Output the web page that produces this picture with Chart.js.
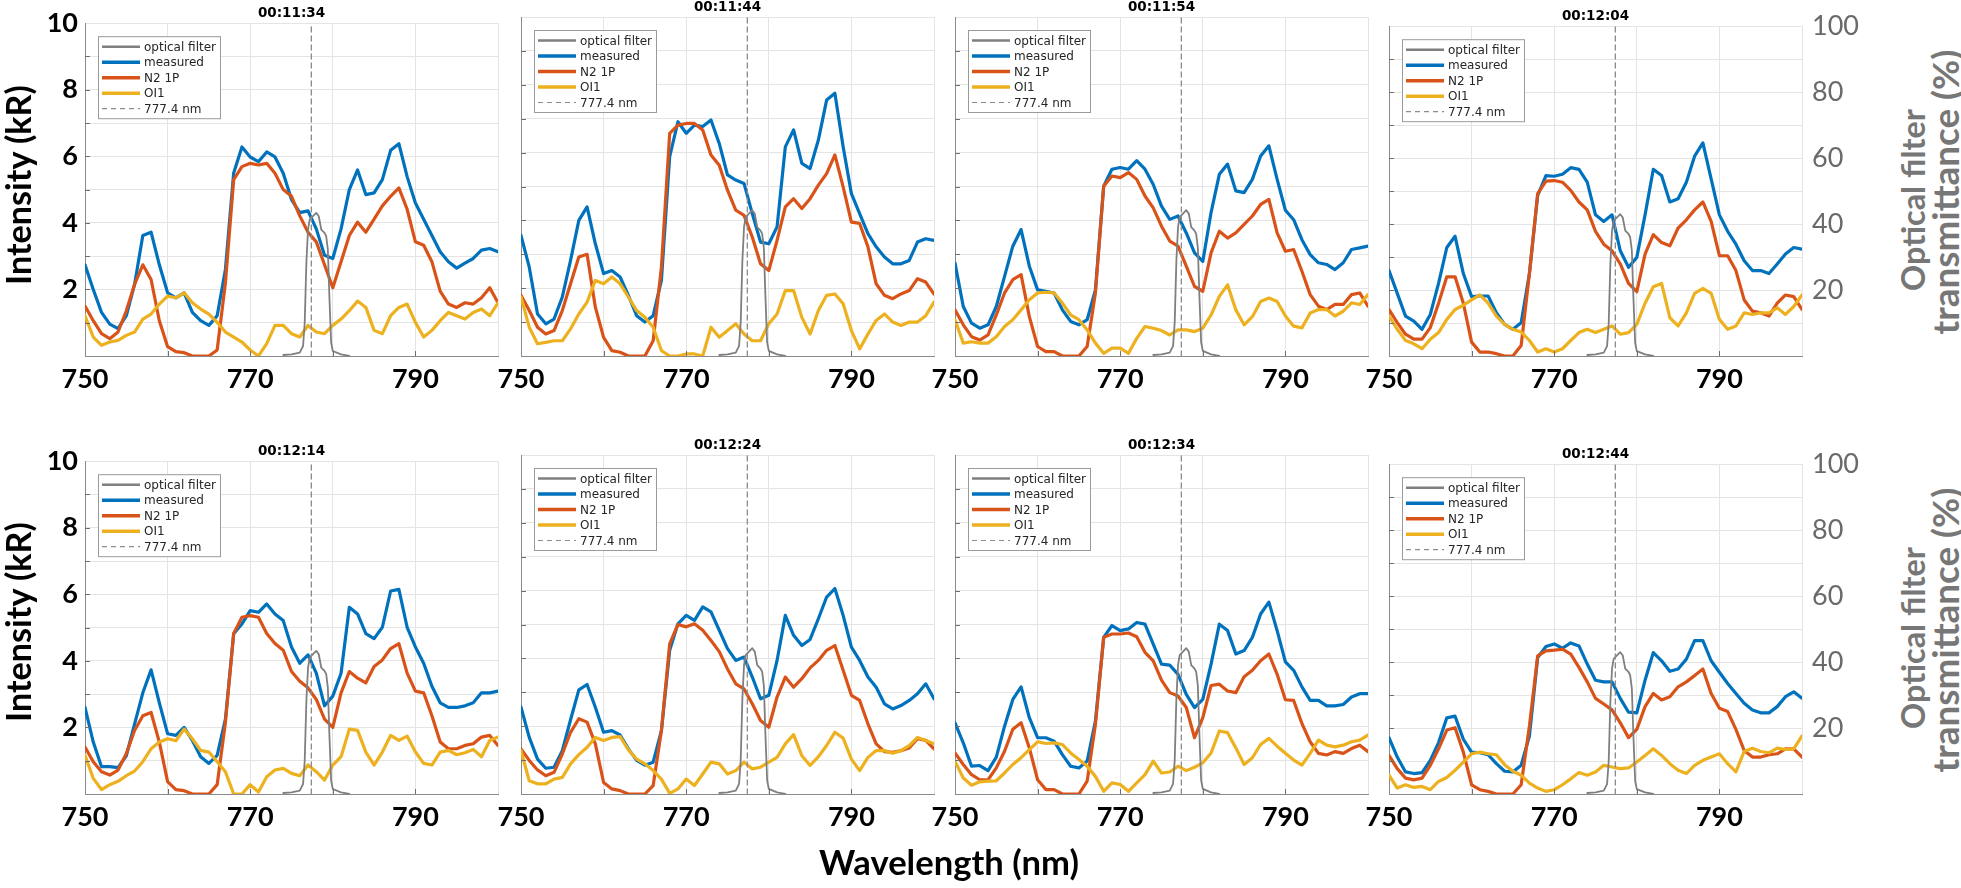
<!DOCTYPE html>
<html><head><meta charset="utf-8">
<script src="https://cdn.jsdelivr.net/npm/chart.js@4.4.0/dist/chart.umd.min.js"></script>
<style>
html,body{margin:0;padding:0;background:#fff;width:1961px;height:888px;overflow:hidden;position:relative;font-family:Lato,sans-serif}
canvas{position:absolute}
.lbl{position:absolute;white-space:nowrap;font-weight:bold;line-height:1;font-family:Lato,sans-serif}
</style></head><body>
<script>
// ---------------- DATA ----------------
const wavelengths = [750,751,752,753,754,755,756,757,758,759,760,761,762,763,764,765,766,767,768,769,770,771,772,773,774,775,776,777,778,779,780,781,782,783,784,785,786,787,788,789,790,791,792,793,794,795,796,797,798,799,800];
const filterWavelengths = [774,775,776,776.4,776.6,776.8,777.0,777.2,777.6,778.0,778.3,778.6,779.0,779.2,779.4,779.6,779.8,780.0,781.0,782.0];
const filterTransmittance = [0.3,0.5,1,3,10,28,38,41,42,43,42,38,37,36,32,17,4,1.5,0.5,0];
const oxygenLine = 777.4;
const timestamps = ['00:11:34','00:11:44','00:11:54','00:12:04','00:12:14','00:12:24','00:12:34','00:12:44'];
const seriesNames = ['optical filter','measured','N2 1P','OI1','777.4 nm'];
const xTickLabels = [750,770,790];
const yTickLabels = [2,4,6,8,10];
const y2TickLabels = [20,40,60,80,100];

const measured_1134 = [2.74,2.0,1.31,0.96,0.82,1.21,2.15,3.62,3.72,2.74, 1.9,1.75,1.9,1.31,1.06,0.92,1.21,2.6,5.5,6.28, 5.98,5.84,6.13,5.98,5.49,4.7,4.31,4.36,3.82,3.03, 2.93,3.82,5.0,5.59,4.85,4.9,5.3,6.18,6.38,5.39, 4.6,4.11,3.62,3.13,2.83,2.64,2.79,2.93,3.18,3.23,3.13];
const n2_1134 = [1.5,1.06,0.67,0.52,0.72,1.36,2.15,2.74,2.3,1.06, 0.28,0.13,0.1,0,0,0,0.18,2.2,5.3,5.69, 5.79,5.74,5.79,5.49,5.0,4.8,4.21,3.72,3.43,2.74, 2.05,2.83,3.62,4.02,3.72,4.11,4.51,4.8,5.05,4.41, 3.43,3.33,2.83,1.95,1.56,1.46,1.6,1.56,1.75,2.05,1.6];
const oi1_1134 = [1.21,0.57,0.32,0.42,0.47,0.62,0.72,1.11,1.26,1.56, 1.8,1.75,1.9,1.6,1.41,1.26,1.01,0.72,0.57,0.42, 0.18,0.0,0.37,0.92,0.92,0.67,0.57,0.92,0.72,0.67, 0.92,1.11,1.36,1.65,1.46,0.77,0.67,1.21,1.46,1.56, 1.01,0.57,0.77,1.06,1.31,1.21,1.11,1.31,1.41,1.21,1.6];

const measured_1144 = [3.56,2.62,1.24,0.95,1.09,1.74,2.82,4.0,4.4,3.31, 2.43,2.52,2.33,1.79,1.19,1.0,1.19,2.23,5.88,6.91, 6.57,6.81,6.77,6.96,6.27,5.34,5.19,5.09,4.2,3.36, 3.31,3.81,6.17,6.67,5.68,5.53,6.37,7.55,7.75,6.17, 4.79,4.2,3.61,3.22,2.92,2.72,2.72,2.82,3.36,3.46,3.41];
const n2_1144 = [1.79,1.34,0.85,0.65,0.75,1.34,2.13,2.92,3.0,1.44, 0.55,0.16,0.11,0,0,0,0.45,2.62,6.57,6.81, 6.86,6.86,6.67,5.93,5.63,4.89,4.3,4.15,3.51,2.72, 2.52,3.41,4.4,4.64,4.35,4.64,5.04,5.38,5.93,4.99, 3.95,3.91,3.22,2.13,1.79,1.69,1.83,1.93,2.28,2.18,1.83];
const oi1_1144 = [1.74,0.85,0.36,0.4,0.45,0.45,0.8,1.24,1.59,2.23, 2.13,2.33,2.13,1.74,1.34,1.14,0.85,0.16,0,0, 0.06,0.06,0,0.85,0.55,0.75,0.95,0.65,0.45,0.45, 0.95,1.24,1.93,1.93,1.14,0.65,1.34,1.79,1.83,1.54, 0.75,0.21,0.65,1.05,1.24,1.0,0.9,1.0,1.0,1.19,1.59];

const measured_1154 = [2.74,1.46,0.97,0.82,0.92,1.46,2.35,3.24,3.73,2.65, 1.95,1.91,1.86,1.36,1.02,0.92,1.07,1.95,5.01,5.51, 5.56,5.51,5.76,5.51,5.06,4.42,4.03,4.13,3.63,3.04, 2.79,4.23,5.36,5.66,4.87,4.82,5.21,5.9,6.2,5.21, 4.3,4.02,3.43,2.99,2.75,2.7,2.55,2.75,3.14,3.19,3.24];
const n2_1154 = [1.36,0.92,0.57,0.47,0.62,1.21,1.86,2.25,2.4,1.16, 0.28,0.13,0.13,0,0,0,0.28,1.86,5.01,5.31, 5.26,5.41,5.21,4.72,4.37,3.83,3.39,3.24,2.65,2.05, 1.91,3.04,3.68,3.48,3.63,3.88,4.13,4.47,4.62,3.63, 3.09,3.14,2.5,1.81,1.47,1.37,1.52,1.52,1.81,1.86,1.47];
const oi1_1154 = [1.07,0.38,0.42,0.38,0.38,0.57,0.87,1.07,1.36,1.66, 1.86,1.88,1.86,1.56,1.21,1.07,0.77,0.38,0.08,0.23, 0.23,0.08,0.52,0.87,0.82,0.75,0.62,0.77,0.77,0.72, 0.82,1.21,1.76,2.1,1.36,0.92,1.16,1.61,1.71,1.61, 1.18,0.88,0.83,1.27,1.37,1.37,1.18,1.32,1.57,1.52,1.81];

const measured_1204 = [2.59,1.9,1.21,1.06,0.81,1.26,2.2,3.29,3.63,2.5, 1.8,1.82,1.82,1.31,0.96,0.81,1.01,2.5,4.87,5.47, 5.45,5.51,5.71,5.66,5.27,4.28,4.08,4.28,3.19,2.69, 2.99,4.28,5.66,5.47,4.67,4.77,5.27,6.06,6.46,5.37, 4.28,3.78,3.39,2.89,2.59,2.59,2.5,2.79,3.09,3.29,3.24];
const n2_1204 = [1.41,1.01,0.66,0.51,0.51,0.86,1.6,2.4,2.4,1.6, 0.42,0.12,0.12,0.07,0,0,0.32,2.5,4.92,5.3, 5.32,5.27,5.02,4.67,4.43,3.78,3.39,3.19,2.79,2.2, 1.95,3.09,3.68,3.44,3.34,3.88,4.13,4.43,4.67,4.08, 3.04,3.04,2.59,1.7,1.36,1.31,1.21,1.6,1.85,1.8,1.41];
const oi1_1204 = [1.21,0.81,0.47,0.37,0.22,0.51,0.71,1.11,1.41,1.54, 1.7,1.85,1.6,1.21,0.96,0.81,0.73,0.47,0.12,0.22, 0.12,0.22,0.47,0.71,0.81,0.71,0.81,0.91,0.66,0.71, 0.96,1.6,2.1,2.2,1.16,0.91,1.31,1.9,2.05,1.9, 1.11,0.81,0.91,1.31,1.26,1.31,1.31,1.46,1.26,1.5,1.85];

const measured_1214 = [2.6,1.56,0.82,0.82,0.79,1.15,2.1,3.04,3.73,2.74, 1.81,1.76,2.0,1.61,1.12,0.92,1.16,2.25,4.82,5.11, 5.51,5.46,5.71,5.41,5.21,4.42,3.93,4.18,3.63,2.65, 2.94,3.63,5.61,5.41,4.82,4.67,5.01,6.1,6.15,5.01, 4.42,3.93,3.24,2.74,2.6,2.6,2.65,2.74,3.04,3.04,3.09];
const n2_1214 = [1.41,0.97,0.67,0.57,0.72,1.21,1.91,2.35,2.45,1.56, 0.37,0.13,0.1,0,0,0,0.28,2.15,4.82,5.31, 5.36,5.31,4.82,4.52,4.32,3.68,3.39,3.19,2.84,2.25, 2.0,3.04,3.68,3.48,3.34,3.83,4.03,4.37,4.52,3.63, 3.09,3.04,2.35,1.56,1.36,1.36,1.46,1.51,1.71,1.76,1.46];
const oi1_1214 = [1.16,0.47,0.13,0.28,0.38,0.55,0.69,0.97,1.36,1.56, 1.66,1.6,1.95,1.66,1.31,1.26,0.97,0.67,0,0, 0.28,0.06,0.52,0.72,0.77,0.62,0.55,0.87,0.67,0.42, 0.87,1.12,1.95,1.91,1.26,0.87,1.26,1.76,1.61,1.74, 1.26,0.92,0.87,1.26,1.31,1.18,1.24,1.34,1.12,1.61,1.71];

const measured_1224 = [2.56,1.67,1.03,0.76,0.79,1.28,2.19,3.07,3.23,2.56, 1.82,1.87,1.74,1.33,0.99,0.85,0.94,1.87,4.24,5.02, 5.27,5.12,5.52,5.37,4.83,4.29,3.94,4.04,3.45,2.81, 2.91,3.94,5.27,4.68,4.38,4.56,5.17,5.81,6.06,5.27, 4.33,3.94,3.45,3.15,2.66,2.51,2.61,2.76,2.96,3.25,2.81];
const n2_1224 = [1.33,0.99,0.71,0.54,0.64,1.18,1.82,2.22,2.12,1.48, 0.34,0.15,0.1,0,0,0,0.25,1.87,4.43,5.0, 4.93,5.02,4.83,4.53,4.2,3.69,3.25,3.1,2.66,2.17, 1.97,2.86,3.45,3.15,3.4,3.72,3.94,4.24,4.38,3.65, 2.91,2.76,2.07,1.48,1.25,1.23,1.28,1.36,1.63,1.58,1.33];
const oi1_1224 = [1.28,0.39,0.3,0.3,0.44,0.49,0.89,1.16,1.38,1.67, 1.58,1.67,1.69,1.3,1.03,0.89,0.69,0.44,0.02,0.15, 0.44,0.25,0.59,0.94,0.89,0.59,0.69,0.94,0.74,0.79, 0.94,1.08,1.48,1.75,1.13,0.84,1.1,1.43,1.82,1.65, 1.03,0.69,1.08,1.28,1.28,1.2,1.28,1.43,1.67,1.58,1.48];

const measured_1234 = [2.1,1.51,0.82,0.84,0.69,1.09,2.0,2.79,3.16,2.25, 1.66,1.66,1.56,1.16,0.82,0.77,0.97,2.15,4.62,4.97, 4.82,4.87,5.06,5.01,4.42,3.83,3.8,3.53,2.94,2.55, 2.79,3.83,5.01,4.82,4.13,4.23,4.62,5.31,5.66,4.82, 3.9,3.65,3.16,2.76,2.76,2.6,2.6,2.64,2.86,2.96,2.96];
const n2_1234 = [1.21,0.87,0.57,0.42,0.42,0.77,1.26,1.91,2.1,1.36, 0.42,0.13,0.13,0,0,0,0.38,2.05,4.62,4.72, 4.72,4.75,4.64,4.18,3.93,3.36,2.99,2.89,2.55,1.66, 2.25,3.2,3.24,3.04,2.99,3.46,3.65,3.93,4.13,3.53, 2.78,2.76,2.08,1.54,1.2,1.15,1.25,1.2,1.34,1.44,1.25];
const oi1_1234 = [0.97,0.47,0.26,0.36,0.38,0.39,0.62,0.87,1.07,1.31, 1.54,1.49,1.51,1.46,1.21,1.02,0.82,0.52,0.08,0.33, 0.28,0.08,0.33,0.57,0.97,0.62,0.65,0.82,0.69,0.79, 0.92,1.21,1.86,1.81,1.36,0.87,1.07,1.46,1.64,1.41, 1.2,1.0,0.85,1.2,1.59,1.44,1.39,1.44,1.54,1.59,1.74];

const measured_1244 = [1.71,1.12,0.67,0.62,0.65,1.02,1.56,2.31,2.36,1.66, 1.27,1.25,1.19,0.92,0.69,0.67,0.87,1.76,4.14,4.47, 4.55,4.42,4.58,4.49,3.94,3.45,3.4,3.4,2.9,2.48, 2.46,3.45,4.29,4.04,3.72,3.79,4.09,4.65,4.65,4.04, 3.69,3.35,3.05,2.75,2.55,2.46,2.46,2.65,2.95,3.1,2.9];
const n2_1244 = [1.17,0.77,0.48,0.43,0.48,0.87,1.37,1.94,2.01,1.27, 0.28,0.13,0.08,0,0,0,0.28,2.06,4.19,4.34, 4.36,4.39,4.24,3.84,3.4,2.9,2.73,2.55,2.16,1.71, 1.96,2.65,3.05,2.85,2.95,3.25,3.4,3.59,3.79,3.05, 2.6,2.5,1.96,1.32,1.12,1.12,1.19,1.22,1.37,1.37,1.12];
const oi1_1244 = [0.57,0.18,0.28,0.2,0.23,0.13,0.38,0.5,0.72,0.97, 1.22,1.27,1.22,1.19,0.89,0.69,0.57,0.33,0.18,0.08, 0.13,0.28,0.46,0.65,0.57,0.67,0.87,0.82,0.77,0.79, 0.97,1.17,1.37,1.17,0.92,0.72,0.62,0.87,1.02,1.12, 1.22,0.92,0.67,1.29,1.39,1.29,1.25,1.39,1.35,1.37,1.76];

const panelMeasured = [measured_1134, measured_1144, measured_1154, measured_1204, measured_1214, measured_1224, measured_1234, measured_1244];
const panelN2 = [n2_1134, n2_1144, n2_1154, n2_1204, n2_1214, n2_1224, n2_1234, n2_1244];
const panelOI1 = [oi1_1134, oi1_1144, oi1_1154, oi1_1204, oi1_1214, oi1_1224, oi1_1234, oi1_1244];

// ---------------- LAYOUT / STYLE ----------------
const colLeft = [85, 521, 955, 1389];
const rowTop = [17, 455];
const PW = 413, PH = 339, LEFTW = 85, TOPPAD = 17, XH = 50;
const COLORS = {filter:'#7f7f7f', measured:'#0072BD', n2:'#D95319', oi1:'#EDB120', dash:'#8c8c8c'};

const decor = {
  id: 'decor',
  afterDraw(chart, args, o) {
    const ctx = chart.ctx, ca = chart.chartArea;
    const xs = chart.scales.x, ys = chart.scales.y;
    ctx.save();
    // inward ticks
    ctx.strokeStyle = '#6e6e6e'; ctx.lineWidth = 1;
    ctx.beginPath();
    for (let v = 1; v < 10; v++) {
      const py = Math.round(ys.getPixelForValue(v)) + 0.5;
      ctx.moveTo(ca.left, py); ctx.lineTo(ca.left + 5, py);
    }
    for (let w = 760; w < 800; w += 10) {
      const px = Math.round(xs.getPixelForValue(w)) + 0.5;
      ctx.moveTo(px, ca.bottom); ctx.lineTo(px, ca.bottom - 5);
    }
    ctx.stroke();
    // title
    ctx.fillStyle = '#000';
    ctx.font = 'bold 13.5px "DejaVu Sans"';
    ctx.textAlign = 'center'; ctx.textBaseline = 'middle';
    ctx.fillText(o.title, (ca.left + ca.right) / 2, ca.top - 10);
    // legend
    const bx = ca.left + 13, by = ca.top + 13, bw = 122, bh = 82;
    ctx.fillStyle = '#fff'; ctx.fillRect(bx, by, bw, bh);
    ctx.strokeStyle = '#9a9a9a'; ctx.lineWidth = 1;
    ctx.strokeRect(bx + 0.5, by + 0.5, bw, bh);
    ctx.font = '12px "DejaVu Sans"'; ctx.textAlign = 'left';
    chart.data.datasets.forEach((ds, i) => {
      const yy = by + 10.5 + i * 15.5;
      ctx.save();
      ctx.strokeStyle = ds.borderColor;
      ctx.lineWidth = ds.legendWidth;
      ctx.setLineDash(ds.borderDash || []);
      ctx.beginPath(); ctx.moveTo(bx + 4, yy); ctx.lineTo(bx + 42, yy); ctx.stroke();
      ctx.restore();
      ctx.fillStyle = '#262626';
      ctx.fillText(ds.label, bx + 46, yy + 1);
    });
    ctx.restore();
  }
};

function makePanel(p) {
  const col = p % 4, row = Math.floor(p / 4);
  const rightW = col === 3 ? 80 : 12;
  const cv = document.createElement('canvas');
  const W = LEFTW + PW + rightW, H = TOPPAD + PH + XH;
  cv.width = W; cv.height = H;
  cv.style.left = (colLeft[col] - LEFTW) + 'px';
  cv.style.top = (rowTop[row] - TOPPAD) + 'px';
  cv.style.width = W + 'px'; cv.style.height = H + 'px';
  document.body.appendChild(cv);
  const toXY = arr => wavelengths.map((w, i) => ({x: w, y: arr[i]}));
  const base = {pointRadius: 0, fill: false, tension: 0, borderJoinStyle: 'round', borderCapStyle: 'round'};
  new Chart(cv, {
    type: 'line',
    data: {
      datasets: [
        Object.assign({}, base, {label: seriesNames[0], data: filterWavelengths.map((w, i) => ({x: w, y: filterTransmittance[i]})), yAxisID: 'y2', borderColor: COLORS.filter, borderWidth: 1.8, legendWidth: 2.5, order: 1}),
        Object.assign({}, base, {label: seriesNames[1], data: toXY(panelMeasured[p]), yAxisID: 'y', borderColor: COLORS.measured, borderWidth: 3.2, legendWidth: 3.5, order: 4}),
        Object.assign({}, base, {label: seriesNames[2], data: toXY(panelN2[p]), yAxisID: 'y', borderColor: COLORS.n2, borderWidth: 3.2, legendWidth: 3.5, order: 3}),
        Object.assign({}, base, {label: seriesNames[3], data: toXY(panelOI1[p]), yAxisID: 'y', borderColor: COLORS.oi1, borderWidth: 3.2, legendWidth: 3.5, order: 2}),
        Object.assign({}, base, {label: seriesNames[4], data: [{x: oxygenLine, y: 0}, {x: oxygenLine, y: 10}], yAxisID: 'y', borderColor: COLORS.dash, borderWidth: 1.3, legendWidth: 1.2, borderDash: [5, 4], order: 0})
      ]
    },
    options: {
      responsive: false, animation: false, devicePixelRatio: 1,
      layout: {padding: {left: 0, right: 0, top: TOPPAD, bottom: 0}},
      plugins: {legend: {display: false}, tooltip: {enabled: false}, title: {display: false}, decor: {title: timestamps[p]}},
      scales: {
        x: {
          type: 'linear', min: 750, max: 800, position: 'bottom',
          afterFit(s) { s.height = XH; },
          ticks: {stepSize: 10, autoSkip: false, maxRotation: 0, padding: 7, color: '#000',
            font: {family: 'Lato', weight: 'bold', size: 27},
            callback: v => xTickLabels.includes(v) ? String(v) : ''},
          grid: {color: '#e4e4e4', drawTicks: false, lineWidth: 1},
          border: {color: '#8a8a8a', width: 1}
        },
        y: {
          type: 'linear', min: 0, max: 10, position: 'left',
          afterFit(s) { s.width = LEFTW; },
          ticks: {stepSize: 1, autoSkip: false, padding: 7, color: '#000', display: col === 0,
            font: {family: 'Lato', weight: 'bold', size: 27},
            callback: v => yTickLabels.includes(v) ? String(v) : ''},
          grid: {color: '#e4e4e4', drawTicks: false, lineWidth: 1},
          border: {color: '#8a8a8a', width: 1}
        },
        y2: {
          type: 'linear', min: 0, max: 100, position: 'right',
          afterFit(s) { s.width = rightW; },
          ticks: {stepSize: 20, autoSkip: false, padding: 10, color: '#6a6a6a', display: col === 3,
            font: {family: 'Lato', weight: 'normal', size: 27},
            callback: v => y2TickLabels.includes(v) ? String(v) : ''},
          grid: {display: false, drawTicks: false},
          border: {display: false}
        }
      }
    },
    plugins: [decor]
  });
}
for (let p = 0; p < 8; p++) makePanel(p);

// axis titles (HTML text), centred on (cx, cy)
function addLabel(text, cx, cy, targetW, opts) {
  const d = document.createElement('div');
  d.className = 'lbl'; d.textContent = text;
  d.style.fontSize = '30px';
  d.style.color = opts.color || '#000';
  document.body.appendChild(d);
  const w = d.getBoundingClientRect().width;
  d.style.fontSize = (30 * targetW / w).toFixed(2) + 'px';
  d.style.left = cx + 'px';
  d.style.top = cy + 'px';
  d.style.transform = 'translate(-50%,-50%)' + (opts.rotate ? ' rotate(-90deg)' : '');
}
addLabel('Intensity (kR)', 18, 185, 200, {rotate: true});
addLabel('Intensity (kR)', 18, 622, 200, {rotate: true});
addLabel('Wavelength (nm)', 949, 862, 260, {});
addLabel('Optical filter', 1913, 200, 182, {rotate: true, color: '#777'});
addLabel('transmittance (%)', 1945, 192, 285, {rotate: true, color: '#777'});
addLabel('Optical filter', 1913, 638, 182, {rotate: true, color: '#777'});
addLabel('transmittance (%)', 1945, 630, 285, {rotate: true, color: '#777'});
</script>
</body></html>
